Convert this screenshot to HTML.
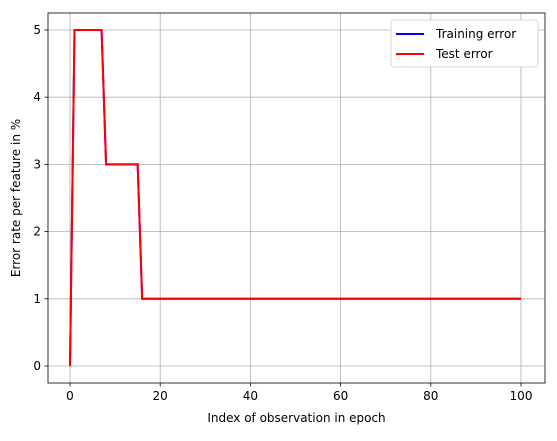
<!DOCTYPE html>
<html><head><meta charset="utf-8"><style>
body{margin:0;background:#fff;font-family:"Liberation Sans","DejaVu Sans",sans-serif;}
svg text{font-family:"DejaVu Sans","Liberation Sans",sans-serif;font-size:12px;fill:#000}
</style></head><body>
<svg id="chart" width="557" height="436"></svg>
<script>
const epochIdx=[0,1,2,3,4,5,6,7,8,9,10,11,12,13,14,15,16,20,30,40,50,60,70,80,90,100];
const trainErr=[0,5,5,5,5,5,5,5,3,3,3,3,3,3,3,3,1,1,1,1,1,1,1,1,1,1];
const testErr=[0,5,5,5,5,5,5,5,3,3,3,3,3,3,3,3,1,1,1,1,1,1,1,1,1,1];
const xTicks=[0,20,40,60,80,100];
const yTicks=[0,1,2,3,4,5];
const svg=document.getElementById('chart');
const NS='http://www.w3.org/2000/svg';
const L=48,R=545,T=13,B=383;
const xs=v=>70+v*(521-70)/100;
const ys=v=>366-v*(366-30)/5;
function mk(t,a){const e=document.createElementNS(NS,t);for(const k in a)e.setAttribute(k,a[k]);svg.appendChild(e);return e;}
xTicks.forEach(v=>{
 const g=mk('line',{x1:xs(v),x2:xs(v),y1:T,y2:B,stroke:'#b0b0b0','stroke-width':0.8});
 
 
 mk('line',{x1:xs(v),x2:xs(v),y1:B,y2:B+3.5,stroke:'#000','stroke-width':0.8});
 const t=mk('text',{x:xs(v),y:B+17,'text-anchor':'middle'});t.textContent=v;
 
 
});
yTicks.forEach(v=>{
 const g=mk('line',{x1:L,x2:R,y1:ys(v),y2:ys(v),stroke:'#b0b0b0','stroke-width':0.8});
 
 
 mk('line',{x1:L-3.5,x2:L,y1:ys(v),y2:ys(v),stroke:'#000','stroke-width':0.8});
 const t=mk('text',{x:L-7,y:ys(v)+4,'text-anchor':'end'});t.textContent=v;
 
 
});
function line(ys_,col,name){
 const p=mk('polyline',{points:epochIdx.map((x,i)=>xs(x)+','+ys(ys_[i])).join(' '),fill:'none',stroke:col,'stroke-width':2});
 
 
}
line(trainErr,'#0000ff','training-error-line');
line(testErr,'#ff0000','test-error-line');
const fr=mk('rect',{x:L,y:T,width:R-L,height:B-T,fill:'none',stroke:'#000','stroke-width':0.8});


const xl=mk('text',{x:(L+R)/2,y:422,'text-anchor':'middle'});xl.textContent='Index of observation in epoch';


const yl=mk('text',{x:20,y:(T+B)/2,'text-anchor':'middle',transform:'rotate(-90 20 '+(T+B)/2+')'});yl.textContent='Error rate per feature in %';


const lg=mk('rect',{x:391,y:20,width:147,height:47,fill:'#fff',stroke:'#ccc','stroke-width':0.8,rx:3});


[['Training error','#0000ff',34],['Test error','#ff0000',54]].forEach(([n,c,y])=>{
 mk('line',{x1:396,x2:424,y1:y,y2:y,stroke:c,'stroke-width':2});
 const t=mk('text',{x:436,y:y+4});t.textContent=n;
 
 
});
</script>
</body></html>
